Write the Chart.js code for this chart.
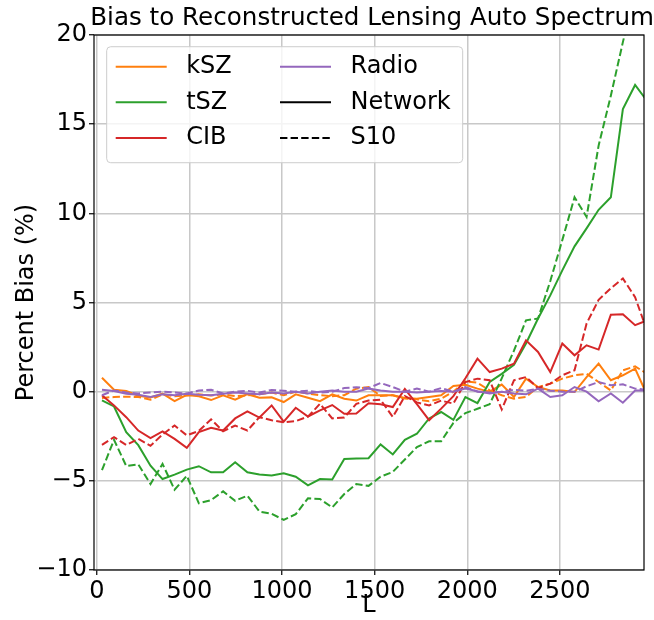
<!DOCTYPE html>
<html>
<head>
<meta charset="utf-8">
<title>Bias to Reconstructed Lensing Auto Spectrum</title>
<script src="https://cdn.jsdelivr.net/npm/chart.js@4.4.0/dist/chart.umd.min.js"></script>
<style>
    html, body { margin: 0; padding: 0; background: #ffffff; }
    #wrap { width: 654px; height: 620px; }
</style>
</head>
<body>
<div id="wrap"><canvas id="biasChart" width="654" height="620"></canvas></div>
<script>
// Multipole bin centres (L)
const ellBins = [28, 93, 159, 224, 290, 355, 420, 486, 551, 617,
    682, 747, 813, 878, 944, 1009, 1074, 1140, 1205, 1271,
    1336, 1401, 1467, 1532, 1598, 1663, 1728, 1794, 1859, 1925,
    1990, 2055, 2121, 2186, 2252, 2317, 2382, 2448, 2513, 2579,
    2644, 2709, 2775, 2840, 2906, 2971];

// Percent bias per foreground, Network maps (solid) and S10 maps (dashed)
const kszNetwork = [0.78, 0.11, 0.04, -0.23, -0.32, -0.11, -0.53, -0.18, -0.26, -0.47,
    -0.2, -0.45, -0.14, -0.34, -0.32, -0.58, -0.15, -0.34, -0.53, -0.15,
    -0.4, -0.5, -0.2, -0.2, -0.2, -0.36, -0.39, -0.3, -0.2, 0.32,
    0.39, 0.17, 0.0, 0.4, -0.3, 0.73, 0.26, 0.07, 0.07, -0.02,
    0.82, 1.57, 0.64, 0.92, 1.29, -0.2];
const kszS10 = [-0.35, -0.3, -0.28, -0.3, -0.45, -0.15, -0.25, -0.22, -0.15, -0.22,
    -0.15, -0.25, -0.2, -0.15, -0.05, -0.2, 0.0, -0.1, -0.2, -0.25,
    -0.2, 0.17, 0.26, -0.24, -0.2, -0.39, -0.43, -0.54, -0.39, 0.0,
    0.58, 0.5, 0.07, -0.2, -0.39, -0.3, 0.26, 0.45, 0.73, 0.92,
    1.0, 0.54, 0.07, 1.2, 1.42, 1.0];

const tszNetwork = [-0.49, -0.83, -2.27, -3.0, -4.15, -4.9, -4.65, -4.37, -4.18, -4.52,
    -4.52, -3.96, -4.52, -4.65, -4.7, -4.58, -4.77, -5.25, -4.9, -4.93,
    -3.77, -3.75, -3.73, -2.96, -3.52, -2.7, -2.36, -1.5, -1.14, -1.58,
    -0.3, -0.64, 0.54, 1.0, 1.5, 2.7, 4.1, 5.4, 6.8, 8.15,
    9.16, 10.2, 10.9, 15.85, 17.2, 16.3];
const tszS10 = [-4.4, -2.7, -4.17, -4.07, -5.18, -4.05, -5.5, -4.72, -6.26, -6.08,
    -5.59, -6.12, -5.83, -6.72, -6.85, -7.19, -6.87, -5.98, -6.02, -6.49,
    -5.74, -5.18, -5.28, -4.77, -4.5, -3.8, -3.11, -2.78, -2.78, -1.75,
    -1.2, -0.96, -0.7, 0.75, 2.3, 4.0, 4.1, 6.2, 8.5, 10.9,
    9.8, 13.8, 16.6, 19.6, 22.5, 25.0];

const cibNetwork = [-0.2, -0.77, -1.43, -2.18, -2.6, -2.23, -2.65, -3.15, -2.27, -2.03,
    -2.18, -1.5, -1.1, -1.45, -0.77, -1.68, -0.9, -1.39, -1.05, -0.75,
    -1.24, -1.22, -0.65, -0.7, -0.86, 0.15, -0.7, -1.6, -0.95, -0.25,
    0.75, 1.85, 1.1, 1.29, 1.57, 2.88, 2.23, 1.1, 2.7, 2.04,
    2.6, 2.36, 4.32, 4.34, 3.73, 4.0];
const cibS10 = [-2.98, -2.55, -2.99, -2.65, -3.04, -2.4, -1.9, -2.45, -2.2, -1.55,
    -2.22, -1.9, -2.18, -1.43, -1.6, -1.72, -1.65, -1.4, -0.68, -1.5,
    -1.45, -0.68, -0.5, -0.45, -1.42, -0.25, -0.6, -0.77, -0.5, -0.67,
    0.54, 0.73, 0.64, -1.0, 0.64, 0.82, 0.2, 0.45, 0.92, 1.2,
    3.82, 5.15, 5.8, 6.35, 5.3, 3.4];

const radioNetwork = [0.11, 0.04, -0.11, -0.17, -0.3, -0.15, -0.2, -0.11, -0.17, -0.2,
    -0.11, -0.05, -0.1, -0.15, -0.05, -0.1, 0.0, -0.1, 0.0, 0.07,
    0.0, 0.0, 0.17, 0.07, 0.0, 0.0, -0.05, 0.0, 0.04, 0.0,
    0.17, 0.02, -0.1, 0.0, -0.1, -0.15, 0.17, -0.3, -0.2, 0.26,
    0.0, -0.54, -0.1, -0.62, 0.07, 0.07];
const radioS10 = [-0.2, 0.07, -0.05, -0.1, -0.05, 0.0, -0.05, -0.1, 0.07, 0.11,
    -0.1, 0.0, 0.05, -0.05, 0.1, 0.05, 0.0, 0.05, -0.05, 0.0,
    0.2, 0.25, 0.2, 0.49, 0.26, 0.0, 0.17, 0.0, 0.2, 0.0,
    0.26, 0.0, -0.05, 0.0, 0.1, 0.05, 0.17, 0.05, 0.0, 0.0,
    0.3, 0.54, 0.36, 0.41, 0.17, 0.1];

// Axis ticks
const xTickValues = [0, 500, 1000, 1500, 2000, 2500];
const yTickValues = [-10, -5, 0, 5, 10, 15, 20];

const FONT = 'DejaVu Sans';
const COLORS = { kSZ: '#ff7f0e', tSZ: '#2ca02c', CIB: '#d62728', Radio: '#9467bd' };
const DASH = [7.4, 3.2];

Chart.defaults.font.family = FONT;
Chart.defaults.color = '#000';

function toPoints(values) {
    return values.map((v, i) => ({ x: ellBins[i], y: v }));
}

function makeDataset(label, values, color, dash) {
    return {
        label: label,
        data: toPoints(values),
        borderColor: color,
        backgroundColor: color,
        borderWidth: 2,
        borderDash: dash,
        pointRadius: 0,
        tension: 0,
        fill: false
    };
}

const series = [
    { name: 'kSZ', net: kszNetwork, s10: kszS10 },
    { name: 'tSZ', net: tszNetwork, s10: tszS10 },
    { name: 'CIB', net: cibNetwork, s10: cibS10 },
    { name: 'Radio', net: radioNetwork, s10: radioS10 }
];

const datasets = [];
series.forEach(s => {
    datasets.push(makeDataset(s.name + ' Network', s.net, COLORS[s.name], []));
    datasets.push(makeDataset(s.name + ' S10', s.s10, COLORS[s.name], DASH));
});
// later series on top, like matplotlib
datasets.forEach((d, i) => { d.order = datasets.length - i; });

// Legend: two columns inside the axes
const legendColumns = [
    [{ text: 'kSZ', color: COLORS.kSZ }, { text: 'tSZ', color: COLORS.tSZ }, { text: 'CIB', color: COLORS.CIB }],
    [{ text: 'Radio', color: COLORS.Radio }, { text: 'Network', color: '#000' }, { text: 'S10', color: '#000', dash: DASH }]
];

function roundedRect(ctx, x, y, w, h, r) {
    ctx.beginPath();
    ctx.moveTo(x + r, y);
    ctx.lineTo(x + w - r, y);
    ctx.arcTo(x + w, y, x + w, y + r, r);
    ctx.lineTo(x + w, y + h - r);
    ctx.arcTo(x + w, y + h, x + w - r, y + h, r);
    ctx.lineTo(x + r, y + h);
    ctx.arcTo(x, y + h, x, y + h - r, r);
    ctx.lineTo(x, y + r);
    ctx.arcTo(x, y, x + r, y, r);
    ctx.closePath();
}

const frameAndLegend = {
    id: 'frameAndLegend',
    afterDraw(chart) {
        const { ctx, chartArea: a } = chart;
        ctx.save();

        // axes frame (all four spines)
        ctx.strokeStyle = '#000';
        ctx.lineWidth = 1.2;
        ctx.setLineDash([]);
        ctx.strokeRect(a.left, a.top, a.right - a.left, a.bottom - a.top);

        // legend box
        const x0 = a.left + 12.7, y0 = a.top + 11.7, w = 356, h = 116;
        roundedRect(ctx, x0, y0, w, h, 4);
        ctx.fillStyle = 'rgba(255,255,255,0.8)';
        ctx.fill();
        ctx.strokeStyle = '#cccccc';
        ctx.lineWidth = 1;
        ctx.stroke();

        const colX = [x0 + 9, x0 + 173.3];
        const rowY = [y0 + 20, y0 + 55.6, y0 + 91.2];
        ctx.font = '24px "' + FONT + '"';
        ctx.textBaseline = 'middle';
        ctx.textAlign = 'left';
        legendColumns.forEach((col, c) => {
            col.forEach((item, r) => {
                const lx = colX[c], ly = rowY[r];
                ctx.beginPath();
                ctx.setLineDash(item.dash || []);
                ctx.strokeStyle = item.color;
                ctx.lineWidth = 2;
                ctx.moveTo(lx, ly);
                ctx.lineTo(lx + 51, ly);
                ctx.stroke();
                ctx.fillStyle = '#000';
                ctx.fillText(item.text, lx + 70.5, ly);
            });
        });
        ctx.restore();
    }
};

const gridStyle = {
    color: '#c8c8c8',
    lineWidth: 1.5,
    tickColor: '#000',
    tickLength: 5,
    tickWidth: 1.2
};

new Chart(document.getElementById('biasChart'), {
    type: 'line',
    data: { datasets: datasets },
    options: {
        responsive: false,
        devicePixelRatio: 1,
        animation: false,
        layout: { padding: 0 },
        plugins: {
            legend: { display: false },
            tooltip: { enabled: false },
            title: {
                display: true,
                text: 'Bias to Reconstructed Lensing Auto Spectrum',
                color: '#000',
                align: 'end',
                font: { size: 24.6, weight: 'normal' },
                padding: { top: 4, bottom: 1.5 }
            }
        },
        scales: {
            x: {
                type: 'linear',
                min: -15,
                max: 2954,
                afterBuildTicks: s => { s.ticks = xTickValues.map(v => ({ value: v })); },
                afterFit: s => { s.height = 50; },
                border: { display: false },
                grid: gridStyle,
                ticks: { font: { size: 24 }, padding: 2, maxRotation: 0, callback: v => String(v) },
                title: { display: true, text: 'L', font: { size: 24 }, padding: { top: 0, bottom: 0 } }
            },
            y: {
                type: 'linear',
                min: -10,
                max: 20,
                afterBuildTicks: s => { s.ticks = yTickValues.map(v => ({ value: v })); },
                afterFit: s => { s.width = 94; },
                border: { display: false },
                grid: gridStyle,
                ticks: {
                    font: { size: 24 },
                    padding: 2,
                    callback: v => (v < 0 ? '\u2212' + Math.abs(v) : String(v))
                },
                title: { display: true, text: 'Percent Bias (%)', font: { size: 24 }, padding: { top: 12, bottom: 0 } }
            },
            // empty right-hand strip so the title can reach the canvas edge
            rightMargin: {
                type: 'linear',
                position: 'right',
                display: true,
                afterFit: s => { s.width = 10; },
                border: { display: false },
                grid: { display: false },
                ticks: { display: false }
            }
        }
    },
    plugins: [frameAndLegend]
});
</script>
</body>
</html>
